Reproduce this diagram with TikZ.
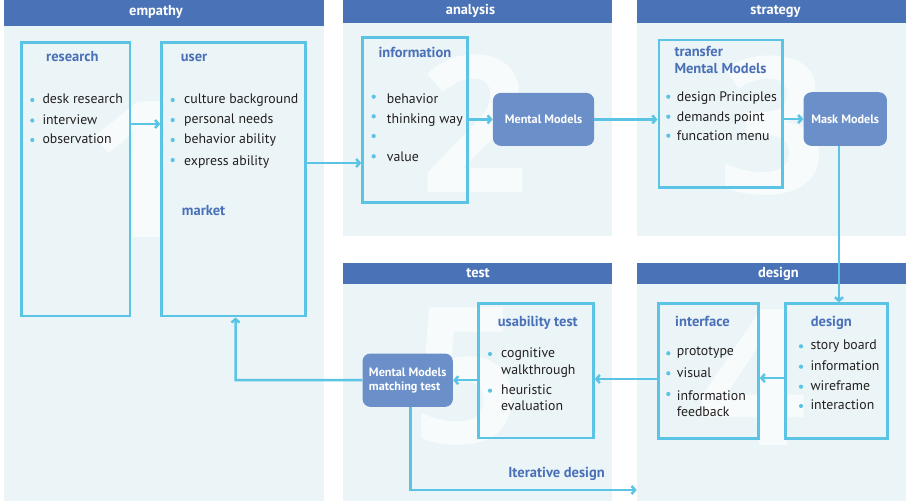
\documentclass[tikz,border=0pt]{standalone}
\usepackage{fontspec}
\setmainfont{PT Sans}
\newfontfamily\digitfont{Open Sans}
\usetikzlibrary{arrows.meta}
\definecolor{hdr}{HTML}{4A72B6}
\definecolor{bodyc}{HTML}{EBF5F7}
\definecolor{cyanc}{HTML}{5BC4E5}
\definecolor{titc}{HTML}{4A70B8}
\definecolor{rbox}{HTML}{6B8FC9}
\definecolor{txtc}{HTML}{231F20}
\newcommand\bul[6]{%
  \fill[cyanc] (#2,#4) circle (2.1pt);
  \node[btxt] (#1) at (#3,#5) {#6};}
\begin{document}
\begin{tikzpicture}[x=1pt,y=-1pt,
  hdrtxt/.style={text=white,font=\fontsize{14.4}{16}\selectfont\bfseries,inner sep=0pt,text height=9pt,text depth=0pt},
  box/.style={draw=cyanc,line width=2.7pt,inner sep=0pt,anchor=north west},
  rbx/.style={fill=rbox,rounded corners=8pt,inner sep=0pt,anchor=north west},
  rtxt/.style={text=white,font=\fontsize{12.2}{14.3}\selectfont\bfseries,align=left,inner sep=0pt},
  btxt/.style={anchor=west,text=txtc,font=\fontsize{13.8}{16}\selectfont,inner sep=0pt,text height=8.8pt,text depth=0pt},
  ttl/.style={anchor=west,text=titc,font=\fontsize{14.5}{16}\selectfont\bfseries,inner sep=0pt,text height=9.2pt,text depth=0pt},
  big/.style={text=white,opacity=0.65,font=\digitfont\fontsize{190}{190}\selectfont\bfseries,inner sep=0pt},
  arr/.style={draw=cyanc,line width=2.5pt,-{Straight Barb[length=3.5pt,width=8pt]}}]
\useasboundingbox (0,0) rectangle (906,501);
% panels
\fill[bodyc] (4,26) rectangle (324,501);
\fill[hdr] (4,0) rectangle (324,26);
\fill[bodyc] (343,23) rectangle (612,236);
\fill[hdr] (343,0) rectangle (612,23);
\fill[bodyc] (637,23) rectangle (906,236);
\fill[hdr] (637,0) rectangle (906,23);
\fill[bodyc] (343,284) rectangle (612,501);
\fill[hdr] (343,263) rectangle (612,284);
\fill[bodyc] (637,284) rectangle (906,501);
\fill[hdr] (637,263) rectangle (906,284);
\node[hdrtxt] (hE) at (156,11) {empathy};
\node[hdrtxt] (hA) at (470.5,9.5) {analysis};
\node[hdrtxt] (hS) at (775.5,10) {strategy};
\node[hdrtxt] (hT) at (478,273.3) {test};
\node[hdrtxt] (hD) at (778.3,273.3) {design};
% big numbers
\node[big] (n1) at (138,170) {1};
\node[big] (n2) at (475,124) {2};
\node[big] (n3) at (773,126) {3};
\node[big] (n4) at (753,378) {4};
\node[big] (n5) at (467,377) {5};
% boxes
\node[box,minimum width=108.7pt,minimum height=273.4pt] (research) at (19.8,41.3) {};
\node[box,minimum width=143.8pt,minimum height=273.4pt] (user) at (160.2,41.3) {};
\node[box,minimum width=104.7pt,minimum height=165pt] (info) at (361.3,36.3) {};
\node[box,minimum width=123.3pt,minimum height=147.6pt] (transfer) at (657.5,38.7) {};
\node[box,minimum width=102.1pt,minimum height=134.7pt] (designbox) at (784.2,302.3) {};
\node[box,minimum width=100pt,minimum height=134.7pt] (interface) at (657,302.3) {};
\node[box,minimum width=115pt,minimum height=134.2pt] (usab) at (477,302.3) {};
\node[rbx,minimum width=101.3pt,minimum height=53pt] (mm) at (492.7,92.7) {};
\node[rtxt] (mmt) at (mm.center) {Mental Models};
\node[rbx,minimum width=83.4pt,minimum height=53.7pt] (mask) at (803.3,92) {};
\node[rtxt] (maskt) at (mask.center) {Mask Models};
\node[rbx,minimum width=90.4pt,minimum height=53.4pt] (mmm) at (362.3,353.3) {};
\node[rtxt] (mmmt) at (mmm.center) {Mental Models\\matching test};
% titles
\node[ttl] (tR) at (46,56.7) {research};
\node[ttl] (tU) at (180.7,56.7) {user};
\node[ttl] (tM) at (181.7,210.7) {market};
\node[ttl] (tI) at (378.3,52.7) {information};
\node[ttl] (tT1) at (674.3,52.3) {transfer};
\node[ttl] (tT2) at (674.3,69.3) {Mental Models};
\node[ttl] (tD) at (810.7,321.7) {design};
\node[ttl] (tF) at (675,321.7) {interface};
\node[ttl] (tUs) at (497.7,321.7) {usability test};
% bullets
\bul{r1}{32.3}{42.3}{100}{99.3}{desk research}
\bul{r2}{32.3}{42.3}{120.5}{120}{interview}
\bul{r3}{32.3}{42.3}{140}{139.3}{observation}
\bul{u1}{172.7}{184}{100}{99.3}{culture background}
\bul{u2}{172.7}{184}{120}{119.3}{personal needs}
\bul{u3}{172.7}{184}{140}{139.3}{behavior ability}
\bul{u4}{172.7}{184}{160}{160.7}{express ability}
\bul{i1}{373.7}{386.7}{96.7}{98.7}{behavior}
\bul{i2}{373.7}{386.7}{116.3}{119}{thinking way}
\bul{i3}{373.7}{386.7}{136}{137}{}
\bul{i4}{373.7}{386.7}{156.3}{156.7}{value}
\bul{s1}{668.3}{676.7}{96.7}{96.7}{design Principles}
\bul{s2}{668.3}{676.7}{116.7}{116.7}{demands point}
\bul{s3}{668.3}{676.7}{135.7}{135.7}{funcation menu}
\bul{d1}{801}{810.3}{346.3}{344.7}{story board}
\bul{d2}{801}{810.3}{366.7}{366.3}{information}
\bul{d3}{801}{810.3}{386.7}{386.3}{wireframe}
\bul{d4}{801}{810.3}{406}{405.3}{interaction}
\bul{f1}{668.3}{676.7}{353.3}{351.3}{prototype}
\bul{f2}{668.3}{676.7}{373.3}{373.3}{visual}
\bul{f3}{668.3}{676.7}{394}{395.7}{information}
\node[btxt] (f3b) at (676.7,412.3) {feedback};
\bul{t1}{490}{501}{354}{353.3}{cognitive}
\node[btxt] (t1b) at (501,370) {walkthrough};
\bul{t2}{490}{501}{390.7}{390}{heuristic}
\node[btxt] (t2b) at (501,405.7) {evaluation};
% connectors
\draw[arr] (research.east |- 0,124) -- (user.west |- 0,124);
\draw[arr] (user.east |- 0,163) -- (info.west |- 0,163);
\draw[arr] (info.east |- mm.west) -- (mm.west);
\draw[arr] (mm.east) -- (transfer.west |- mm.east);
\draw[arr] (transfer.east |- mask.west) -- (mask.west);
\draw[arr] (mask.south -| 839,0) -- (designbox.north -| 839,0);
\draw[arr] (designbox.west |- 0,378) -- (interface.east |- 0,378);
\draw[arr] (interface.west |- 0,379) -- (usab.east |- 0,379);
\draw[arr] (usab.west |- mmm.east) -- (mmm.east);
\coordinate (cL) at (235.5,380);
\draw[arr] (mmm.west) -- (cL) -- (user.south -| cL);
\coordinate (cB) at (410.7,490);
\coordinate (iterEnd) at (636.7,490);
\draw[arr] (mmm.south -| cB) -- (cB) -- (iterEnd);
\node[ttl,anchor=center] (iter) at (556.5,473) {Iterative design};
\end{tikzpicture}
\end{document}
